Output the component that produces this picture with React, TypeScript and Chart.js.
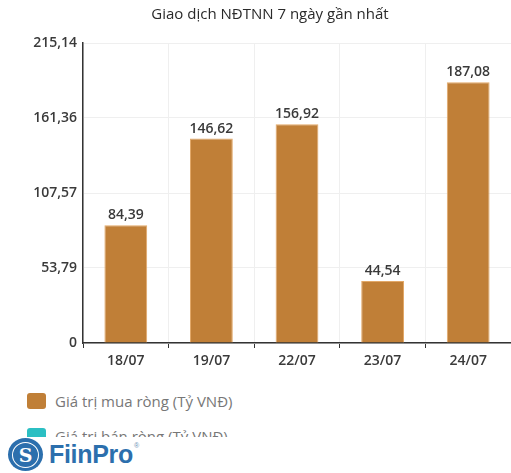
import React, { useEffect, useRef } from "react";
import { Chart, registerables } from "chart.js";

Chart.register(...registerables);

const TITLE = "Giao dịch NĐTNN 7 ngày gần nhất";
const categories = ["18/07", "19/07", "22/07", "23/07", "24/07"];
const buyValues = [84.39, 146.62, 156.92, 44.54, 187.08];
const sellValues: (number | null)[] = [null, null, null, null, null];
const yTicks = [0, 53.79, 107.57, 161.36, 215.14];
const seriesLabels = ["Giá trị mua ròng (Tỷ VNĐ)", "Giá trị bán ròng (Tỷ VNĐ)"];
const seriesColors = ["#c07f37", "#2bbfc3"];

const FONT = "'Open Sans', 'Noto Sans', sans-serif";

const fmt = (v: number) => (v === 0 ? "0" : v.toFixed(2).replace(".", ","));

const valueLabels = {
  id: "valueLabels",
  afterDatasetsDraw(chart: any) {
    const ctx = chart.ctx;
    const meta = chart.getDatasetMeta(0);
    ctx.save();
    ctx.font = `600 14px ${FONT}`;
    ctx.fillStyle = "#3a3a3a";
    ctx.textAlign = "center";
    ctx.textBaseline = "bottom";
    meta.data.forEach((bar: any, i: number) => {
      const v = chart.data.datasets[0].data[i];
      if (v == null) return;
      ctx.fillText(fmt(v as number), bar.x, bar.y - 3);
    });
    ctx.restore();
  },
};

const offsetTitle = {
  id: "offsetTitle",
  afterDraw(chart: any) {
    const ctx = chart.ctx;
    ctx.save();
    ctx.font = `normal 15px ${FONT}`;
    ctx.fillStyle = "#2a2a2a";
    ctx.textAlign = "center";
    ctx.textBaseline = "middle";
    ctx.fillText(TITLE, 270, 15);
    ctx.restore();
  },
};

function App() {
  const ref = useRef<HTMLCanvasElement | null>(null);
  useEffect(() => {
    document.body.style.margin = "0";
    if (!ref.current) return;
    const chart = new Chart(ref.current, {
      type: "bar",
      data: {
        labels: categories,
        datasets: [
          {
            label: seriesLabels[0],
            data: buyValues,
            backgroundColor: seriesColors[0],
            borderColor: "#e2a868",
            borderWidth: 1,
            grouped: false,
            barPercentage: 0.5,
            categoryPercentage: 1,
          } as any,
          {
            label: seriesLabels[1],
            data: sellValues,
            backgroundColor: seriesColors[1],
            grouped: false,
            barPercentage: 0.5,
            categoryPercentage: 1,
          } as any,
        ],
      },
      options: {
        animation: false,
        responsive: false,
        maintainAspectRatio: false,
        layout: { padding: { left: 0, right: 0, top: 43, bottom: 0 } },
        plugins: {
          legend: { display: false },
          tooltip: { enabled: false },
          title: { display: false },
        },
        scales: {
          x: {
            grid: {
              color: "#efefef",
              tickColor: "#333",
              tickLength: 5,
              offset: true,
            },
            border: { color: "#333", width: 1.5 },
            ticks: {
              color: "#3a3a3a",
              font: { family: FONT, size: 14, weight: 600 },
              padding: 5,
            },
            afterFit: (s: any) => {
              s.height = 37;
            },
          },
          y: {
            min: 0,
            max: 215.14,
            afterBuildTicks: (s: any) => {
              s.ticks = yTicks.map((v) => ({ value: v }));
            },
            grid: { color: "#efefef", drawTicks: false },
            border: { color: "#333", width: 1.5 },
            ticks: {
              color: "#3a3a3a",
              font: { family: FONT, size: 14, weight: 600 },
              padding: 6,
              callback: (v: any) => fmt(Number(v)),
            },
            afterFit: (s: any) => {
              s.width = 83;
            },
          },
        },
      },
      plugins: [valueLabels, offsetTitle],
    });
    return () => chart.destroy();
  }, []);

  return (
    <div style={{ position: "absolute", left: 0, top: 0, width: 511, height: 473, overflow: "hidden", background: "#fff" }}>
      <div style={{ position: "absolute", left: 0, top: 0, width: 511, height: 437, overflow: "hidden" }}>
        <canvas ref={ref} width={511} height={380} style={{ display: "block", width: 511, height: 380 }} />
        <div style={{ position: "absolute", left: 27, top: 392 }}>
          {seriesLabels.map((l, i) => (
            <div key={l} style={{ display: "flex", alignItems: "center", height: 17, marginBottom: 18 }}>
              <div style={{ width: 19, height: 16, borderRadius: 3, background: seriesColors[i] }} />
              <span style={{ marginLeft: 9, fontFamily: FONT, fontSize: 15, color: "#777", whiteSpace: "nowrap" }}>{l}</span>
            </div>
          ))}
        </div>
      </div>
      <div style={{ position: "absolute", left: 8, top: 438, display: "flex", alignItems: "center" }}>
        <div
          style={{
            width: 35,
            height: 33,
            borderRadius: "50%",
            background: "#2c6fad",
            display: "flex",
            alignItems: "center",
            justifyContent: "center",
          }}
        >
          <div
            style={{
              width: 25,
              height: 24,
              borderRadius: "50%",
              border: "1.5px solid #fff",
              display: "flex",
              alignItems: "center",
              justifyContent: "center",
              color: "#fff",
              fontFamily: "'DejaVu Serif', serif",
              fontWeight: "bold",
              fontSize: 19,
              lineHeight: "24px",
            }}
          >
            S
          </div>
        </div>
        <span
          style={{
            marginLeft: 6,
            fontFamily: "'Liberation Sans', Arial, sans-serif",
            fontWeight: "bold",
            fontSize: 25,
            color: "#2c6fad",
            letterSpacing: -0.3,
          }}
        >
          FiinPro
        </span>
        <span style={{ fontSize: 7, color: "#6b8fb5", alignSelf: "flex-start", marginTop: 4, marginLeft: 1, fontFamily: "sans-serif" }}>®</span>
      </div>
    </div>
  );
}

export default App;
